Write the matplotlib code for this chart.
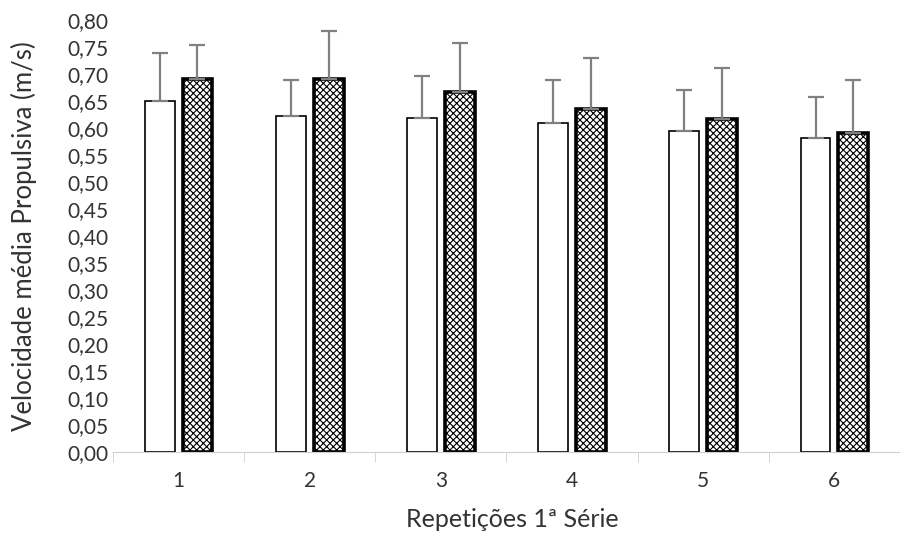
import numpy as np
import matplotlib.pyplot as plt

plt.rcParams['font.family'] = ['Lato', 'DejaVu Sans']
plt.rcParams['hatch.linewidth'] = 0.8

# data
reps = ['1', '2', '3', '4', '5', '6']
grupo_a = [0.650, 0.623, 0.618, 0.609, 0.595, 0.581]
grupo_a_dp = [0.089, 0.066, 0.078, 0.080, 0.076, 0.076]
grupo_b = [0.691, 0.691, 0.667, 0.635, 0.616, 0.590]
grupo_b_dp = [0.063, 0.089, 0.090, 0.095, 0.095, 0.098]

x = np.arange(len(reps))
w = 0.227
off = 0.144

fig = plt.figure(figsize=(9, 5.38), dpi=100)
ax = fig.add_axes([113/900, 1-452/538, 787/900, 432/538])

err_kw = dict(ecolor='#808080', elinewidth=1.6, capsize=6, capthick=1.6)
ax.bar(x - off, grupo_a, w, color='white', edgecolor='black', linewidth=1.2,
       yerr=[np.zeros(6), grupo_a_dp], error_kw=err_kw, zorder=2)
ax.bar(x + off, grupo_b, w, color='white', edgecolor='black', linewidth=2.6,
       hatch='xxxxx', yerr=[np.zeros(6), grupo_b_dp], error_kw=err_kw, zorder=2)

ax.set_xlim(-0.5, 5.5)
ax.set_ylim(0, 0.80)
ax.set_yticks(np.arange(0, 0.801, 0.05))
ax.set_yticklabels([f'{v:.2f}'.replace('.', ',') for v in np.arange(0, 0.801, 0.05)])
ax.set_xticks(x)
ax.set_xticklabels(reps)
ax.set_xticks(np.arange(-0.5, 6, 1), minor=True)

for s in ['top', 'right', 'left']:
    ax.spines[s].set_visible(False)
ax.spines['bottom'].set_color('#d0d0d0')
ax.tick_params(axis='x', which='major', length=0, pad=14, labelsize=15, labelcolor='#333333')
ax.tick_params(axis='x', which='minor', length=7, color='#d0d0d0')
ax.tick_params(axis='y', length=0, pad=3, labelsize=15, labelcolor='#333333')

ax.set_xlabel('Repetições 1ª Série', fontsize=18, color='#333333')
ax.set_ylabel('Velocidade média Propulsiva (m/s)', fontsize=18.5, color='#333333')
ax.xaxis.set_label_coords(0.508, -0.13)
ax.yaxis.set_label_coords(-0.097, 0.5)

fig.savefig('out.png', dpi=100)
